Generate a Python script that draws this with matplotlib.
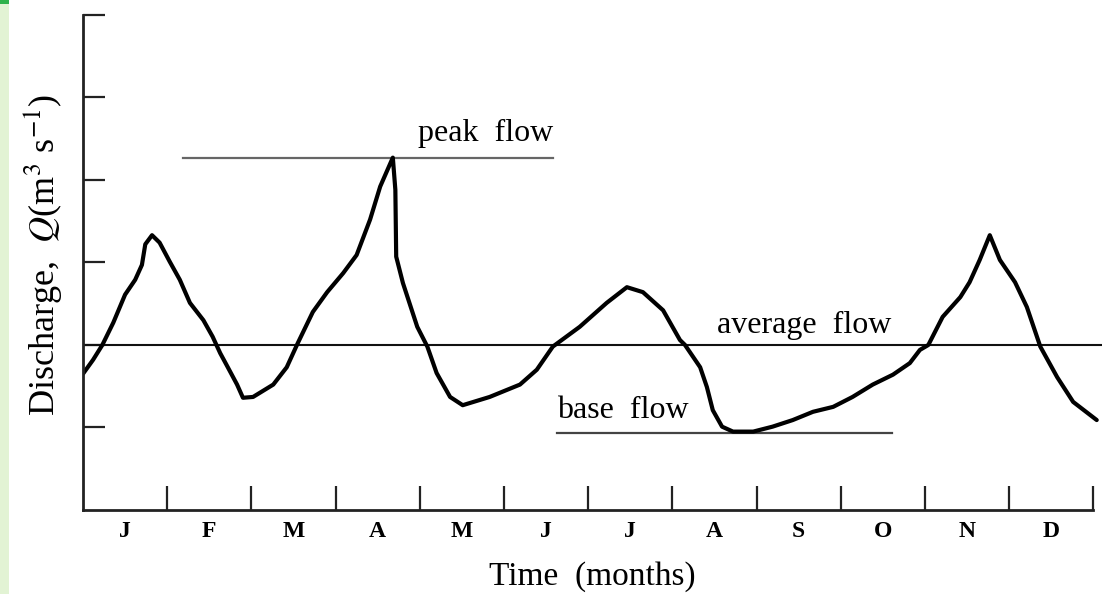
# -*- coding: utf-8 -*-
'''
    annual hydrograph: discharge over the months with peak / average / base flow
'''

import matplotlib
matplotlib.use('Agg')
import matplotlib.pyplot as plt
from matplotlib.patches import Rectangle


# ---- data (months from start of Jan, discharge in tick units) ----
lsMonthLabels = ['J', 'F', 'M', 'A', 'M', 'J', 'J', 'A', 'S', 'O', 'N', 'D']

lsTime = [0.00, 0.12, 0.23, 0.36, 0.50, 0.62, 0.70, 0.74, 0.82, 0.91,
          1.03, 1.15, 1.27, 1.43, 1.54, 1.63, 1.72, 1.83, 1.90, 2.02,
          2.26, 2.42, 2.55, 2.73, 2.90, 3.09, 3.25, 3.41, 3.53, 3.68,
          3.71, 3.72, 3.80, 3.97, 4.09, 4.20, 4.36, 4.51, 4.83, 5.19,
          5.39, 5.58, 5.90, 6.22, 6.46, 6.65, 6.89, 7.09, 7.15, 7.33,
          7.41, 7.48, 7.59, 7.72, 7.96, 8.19, 8.43, 8.67, 8.91, 9.14,
          9.38, 9.62, 9.82, 9.94, 10.04, 10.21, 10.42, 10.53, 10.65, 10.77,
          10.89, 11.07, 11.21, 11.37, 11.57, 11.76, 12.04]

lsDischarge = [1.65, 1.82, 2.00, 2.27, 2.61, 2.79, 2.97, 3.22, 3.33, 3.24,
               3.01, 2.79, 2.51, 2.30, 2.10, 1.90, 1.73, 1.52, 1.36, 1.37,
               1.52, 1.73, 2.02, 2.40, 2.64, 2.87, 3.09, 3.52, 3.92, 4.27,
               3.88, 3.07, 2.75, 2.22, 1.98, 1.66, 1.37, 1.27, 1.37, 1.52,
               1.70, 1.98, 2.22, 2.51, 2.70, 2.64, 2.42, 2.06, 2.00, 1.73,
               1.49, 1.21, 1.01, 0.95, 0.95, 1.01, 1.09, 1.19, 1.25, 1.37,
               1.52, 1.64, 1.78, 1.94, 2.00, 2.34, 2.58, 2.76, 3.03, 3.33,
               3.03, 2.76, 2.46, 1.98, 1.61, 1.31, 1.09]

dPeakFlow = 4.27
lsPeakSpan = [1.19, 5.58]
dAverageFlow = 2.0
lsAverageSpan = [0.0, 12.1]
dBaseFlow = 0.93
lsBaseSpan = [5.63, 9.61]


def drawHydrograph():
    '''
        draw discharge curve with the three reference flow lines
    '''
    plt.rcParams['font.family'] = ['Liberation Serif', 'DejaVu Serif']
    plt.rcParams['mathtext.fontset'] = 'stix'

    fig = plt.figure(figsize=(11.02, 5.94), dpi=100)
    ax = fig.add_axes([0.0753, 0.1414, 0.9245, 0.8586])

    # light green strip on the left edge of the page
    fig.patches.append(Rectangle((0, 0), 9 / 1102., 1, transform=fig.transFigure,
                                 facecolor='#e2f3d4', edgecolor='none', zorder=-1))
    fig.patches.append(Rectangle((0, 1 - 4 / 594.), 9 / 1102., 4 / 594., transform=fig.transFigure,
                                 facecolor='#2fb24c', edgecolor='none', zorder=-1))

    # reference lines
    ax.plot(lsAverageSpan, [dAverageFlow, dAverageFlow], color='#111111', lw=1.5)
    ax.plot(lsPeakSpan, [dPeakFlow, dPeakFlow], color='#666666', lw=1.6)
    ax.plot(lsBaseSpan, [dBaseFlow, dBaseFlow], color='#444444', lw=1.6)

    # hydrograph
    ax.plot(lsTime, lsDischarge, color='black', lw=3.0, solid_joinstyle='round',
            solid_capstyle='round')

    ax.text(lsPeakSpan[1], dPeakFlow + 0.29, 'peak  flow', ha='right', va='center', fontsize=23)
    ax.text(8.57, dAverageFlow + 0.24, 'average  flow', ha='center', va='center', fontsize=23)
    ax.text(lsBaseSpan[0], dBaseFlow + 0.27, 'base  flow', ha='left', va='center', fontsize=23)

    # axes style
    ax.set_xlim(0, 12.1)
    ax.set_ylim(0, 6.18)
    ax.spines['top'].set_visible(False)
    ax.spines['right'].set_visible(False)
    ax.spines['left'].set_bounds(0, 6)
    ax.spines['bottom'].set_bounds(0, 12)
    for s in ['left', 'bottom']:
        ax.spines[s].set_linewidth(2.0)
        ax.spines[s].set_color('#222222')

    ax.set_xticks(range(1, 13))
    ax.set_xticklabels([])
    ax.set_xticks([m + 0.5 for m in range(12)], minor=True)
    ax.set_xticklabels(lsMonthLabels, minor=True, fontsize=17, fontweight='bold')
    ax.tick_params(axis='x', which='major', direction='in', length=17, width=1.6, color='#222222')
    ax.tick_params(axis='x', which='minor', length=0, pad=8)

    ax.set_yticks(range(1, 7))
    ax.set_yticklabels([])
    ax.tick_params(axis='y', direction='in', length=16, width=1.6, color='#222222')

    ax.set_xlabel('Time  (months)', fontsize=24, labelpad=14)
    ax.set_ylabel('Discharge,  $Q$(m$^3$ s$^{-1}$)', fontsize=26, labelpad=10)

    fig.savefig('out.png', dpi=100)


if __name__ == '__main__':
    drawHydrograph()
